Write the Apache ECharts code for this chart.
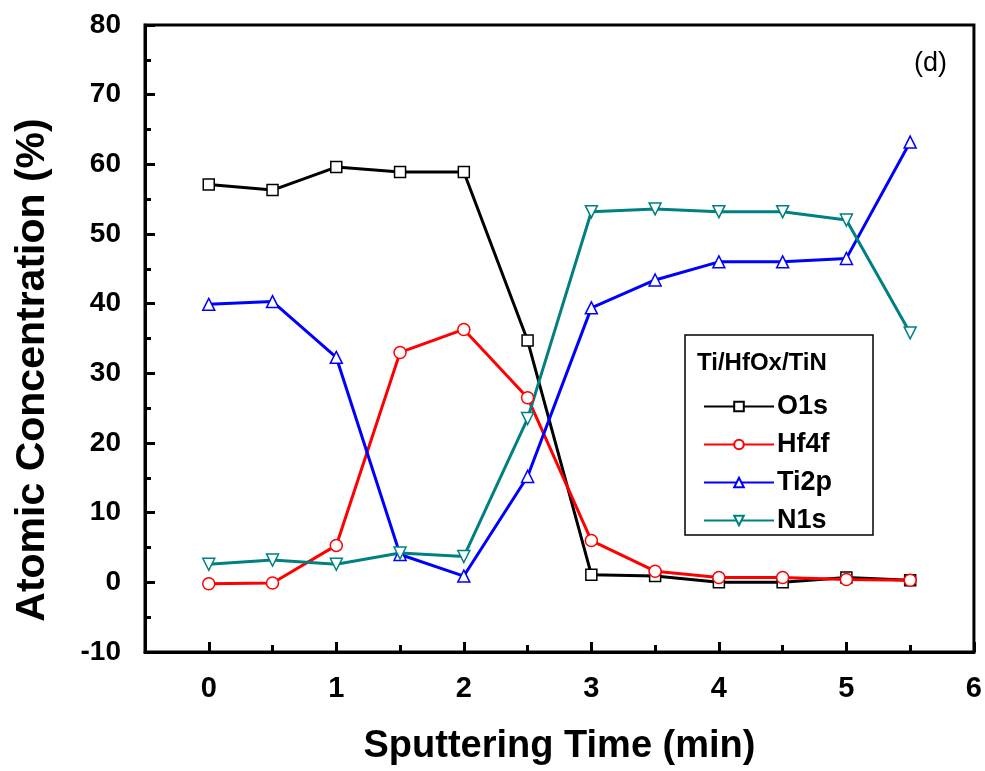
<!DOCTYPE html>
<html><head><meta charset="utf-8">
<script src="https://cdn.jsdelivr.net/npm/echarts@6/dist/echarts.min.js"></script>
<style>html,body{margin:0;padding:0;background:#fff}#c{width:985px;height:771px}</style>
</head><body><div id="c"></div>
<script>
var times = [0, 0.5, 1, 1.5, 2, 2.5, 3, 3.5, 4, 4.5, 5, 5.5];
var o1s  = [57.1, 56.3, 59.6, 58.9, 58.9, 34.7, 1.1, 0.9, 0.0, 0.0, 0.7, 0.3];
var hf4f = [-0.2, -0.1, 5.3, 33.0, 36.3, 26.5, 6.0, 1.6, 0.7, 0.7, 0.4, 0.3];
var ti2p = [39.9, 40.3, 32.3, 4.0, 0.9, 15.2, 39.4, 43.4, 46.0, 46.0, 46.5, 63.2];
var n1s  = [2.6, 3.2, 2.6, 4.2, 3.7, 23.5, 53.2, 53.6, 53.2, 53.2, 52.0, 35.8];
var xTicks = [0, 1, 2, 3, 4, 5, 6];
var xMinorTicks = [0.5, 1.5, 2.5, 3.5, 4.5, 5.5];
var seriesNames = ['O1s', 'Hf4f', 'Ti2p', 'N1s'];
var legendTitle = 'Ti/HfOx/TiN';
var panelLabel = '(d)';
var xTitle = 'Sputtering Time (min)';
var yTitle = 'Atomic Concentration (%)';

function pairs(v){ return times.map(function(t,i){return [t, v[i]];}); }
var font = 'Liberation Sans';
var chart = echarts.init(document.getElementById('c'), null, {renderer:'canvas'});
function mk(name, data, color, symbol, rot){
  return {name:name, type:'line', data:pairs(data), symbol:symbol, symbolSize: symbol==='rect'?11:12,
    symbolRotate: rot||0, showSymbol:true,
    lineStyle:{color:color, width:3}, itemStyle:{color:'#fff', borderColor:color, borderWidth:1.5},
    emphasis:{disabled:true}, z:3};
}
chart.setOption({
  animation:false,
  grid:{left:145, right:9, top:25, bottom:119, show:true, borderColor:'#000', borderWidth:3, backgroundColor:'transparent'},
  xAxis:[{type:'value', min:-0.5, max:6, interval:0.5,
    name:xTitle, nameLocation:'middle', nameGap:76,
    nameTextStyle:{fontFamily:font, fontWeight:'bold', fontSize:38, color:'#000'},
    axisLine:{onZero:false, lineStyle:{color:'#000', width:3}},
    axisTick:{inside:true, length:10, lineStyle:{width:3, color:'#000'}, customValues:xTicks},
    axisLabel:{fontFamily:font, fontWeight:'bold', fontSize:29, color:'#000', margin:22, customValues:xTicks},
    splitLine:{show:false}},
   {type:'value', min:-0.5, max:6, position:'bottom', gridIndex:0,
    axisLine:{show:false, onZero:false},
    axisTick:{inside:true, length:7, lineStyle:{width:3, color:'#000'}, customValues:xMinorTicks},
    axisLabel:{show:false}, splitLine:{show:false}}],
  yAxis:{type:'value', min:-10, max:80, interval:10,
    axisLine:{onZero:false, lineStyle:{color:'#000', width:3}},
    axisTick:{inside:true, length:10, lineStyle:{width:3, color:'#000'}},
    minorTick:{show:true, splitNumber:2, length:6, lineStyle:{width:3, color:'#000'}},
    axisLabel:{fontFamily:font, fontWeight:'bold', fontSize:28, color:'#000', margin:24},
    splitLine:{show:false}},
  legend:{orient:'vertical', left:698, top:388, itemWidth:70, itemHeight:12, itemGap:11,
    data:seriesNames, selectedMode:false,
    textStyle:{fontFamily:font, fontWeight:'bold', fontSize:27, color:'#000', padding:[0,0,0,-2]}},
  graphic:[
    {type:'rect', shape:{x:685, y:335, width:188, height:200}, style:{fill:'#fff', stroke:'#000', lineWidth:1.5}, z:1},
    {type:'text', left:697, top:351, style:{text:legendTitle, fontFamily:font, fontWeight:'bold', fontSize:24, fill:'#000'}, z:5},
    {type:'text', left:914, top:50, style:{text:panelLabel, fontFamily:font, fontSize:27, fill:'#000'}, z:5},
    {type:'text', x:33, y:370, rotation:Math.PI/2,
      style:{text:yTitle, fontFamily:font, fontWeight:'bold', fontSize:41, fill:'#000', align:'center', verticalAlign:'middle'}, z:5}
  ],
  series:[
    mk('O1s', o1s, '#000000', 'rect'),
    mk('Hf4f', hf4f, '#ff0000', 'circle'),
    mk('Ti2p', ti2p, '#0000ff', 'triangle'),
    mk('N1s', n1s, '#008080', 'triangle', 180)
  ]
});
</script></body></html>
